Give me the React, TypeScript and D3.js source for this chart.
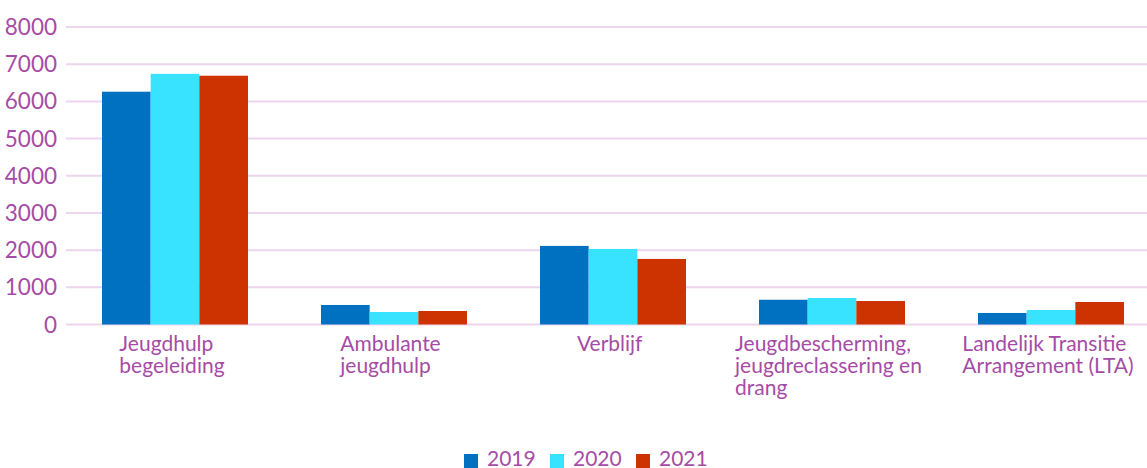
import React from "react";
import * as d3 from "d3";

const categories = [
  ["Jeugdhulp", "begeleiding"],
  ["Ambulante", "jeugdhulp"],
  ["Verblijf"],
  ["Jeugdbescherming,", "jeugdreclassering en", "drang"],
  ["Landelijk Transitie", "Arrangement (LTA)"],
];
const years = ["2019", "2020", "2021"];
const values2019 = [6260, 525, 2113, 665, 310];
const values2020 = [6740, 336, 2032, 713, 390];
const values2021 = [6690, 363, 1763, 632, 605];
const yTicks = [0, 1000, 2000, 3000, 4000, 5000, 6000, 7000, 8000];

const colors = ["#0070C0", "#37E3FF", "#CC3300"];
const textColor = "#A64CA6";
const gridColor = "#EDD5ED";
const font = "Lato, 'Open Sans', sans-serif";

export default function App() {
  const width = 1147;
  const height = 468;
  const series = [values2019, values2020, values2021];

  const x = d3
    .scaleBand<number>()
    .domain(d3.range(categories.length))
    .range([65.5, 1160.5])
    .paddingInner(1 / 3)
    .paddingOuter(1 / 6);
  const x1 = d3.scaleBand<number>().domain(d3.range(years.length)).range([0, x.bandwidth()]);
  const y = d3.scaleLinear().domain([0, 8000]).range([324.5, 27]);

  return (
    <svg
      width={width}
      height={height}
      style={{ position: "absolute", left: 0, top: 0, background: "#fff" }}
      fontFamily={font}
    >
      {/* grid + y labels */}
      {yTicks.map((t) => (
        <g key={t}>
          <line x1={66} x2={width} y1={y(t)} y2={y(t)} stroke={gridColor} strokeWidth={2} />
          <text x={57} y={y(t)} dy="0.36em" textAnchor="end" fontSize={22.5} fill={textColor}>
            {t}
          </text>
        </g>
      ))}

      {/* bars */}
      {categories.map((_, i) => (
        <g key={i} transform={`translate(${x(i)},0)`}>
          {series.map((s, j) => (
            <rect
              key={j}
              x={x1(j)}
              y={y(s[i])}
              width={x1.bandwidth()}
              height={y(0) - y(s[i])}
              fill={colors[j]}
            />
          ))}
        </g>
      ))}

      {/* category labels: left aligned block, centered on band */}
      {categories.map((lines, i) => (
        <CategoryLabel key={i} lines={lines} cx={(x(i) as number) + x.bandwidth() / 2} />
      ))}

      {/* legend */}
      {years.map((yr, j) => (
        <g key={yr} transform={`translate(${464 + j * 86},0)`}>
          <rect x={0} y={454} width={14} height={14} fill={colors[j]} />
          <text x={23} y={465.5} fontSize={21} fill={textColor}>
            {yr}
          </text>
        </g>
      ))}
    </svg>
  );
}

function CategoryLabel({ lines, cx }: { lines: string[]; cx: number }) {
  const ref = React.useRef<SVGGElement>(null);
  const [w, setW] = React.useState(0);
  React.useLayoutEffect(() => {
    if (ref.current) setW(ref.current.getBBox().width);
  }, []);
  return (
    <g ref={ref}>
      {lines.map((l, k) => (
        <text key={k} x={cx - w / 2 - 3} y={351 + k * 22} fontSize={21} fill={textColor}>
          {l}
        </text>
      ))}
    </g>
  );
}
